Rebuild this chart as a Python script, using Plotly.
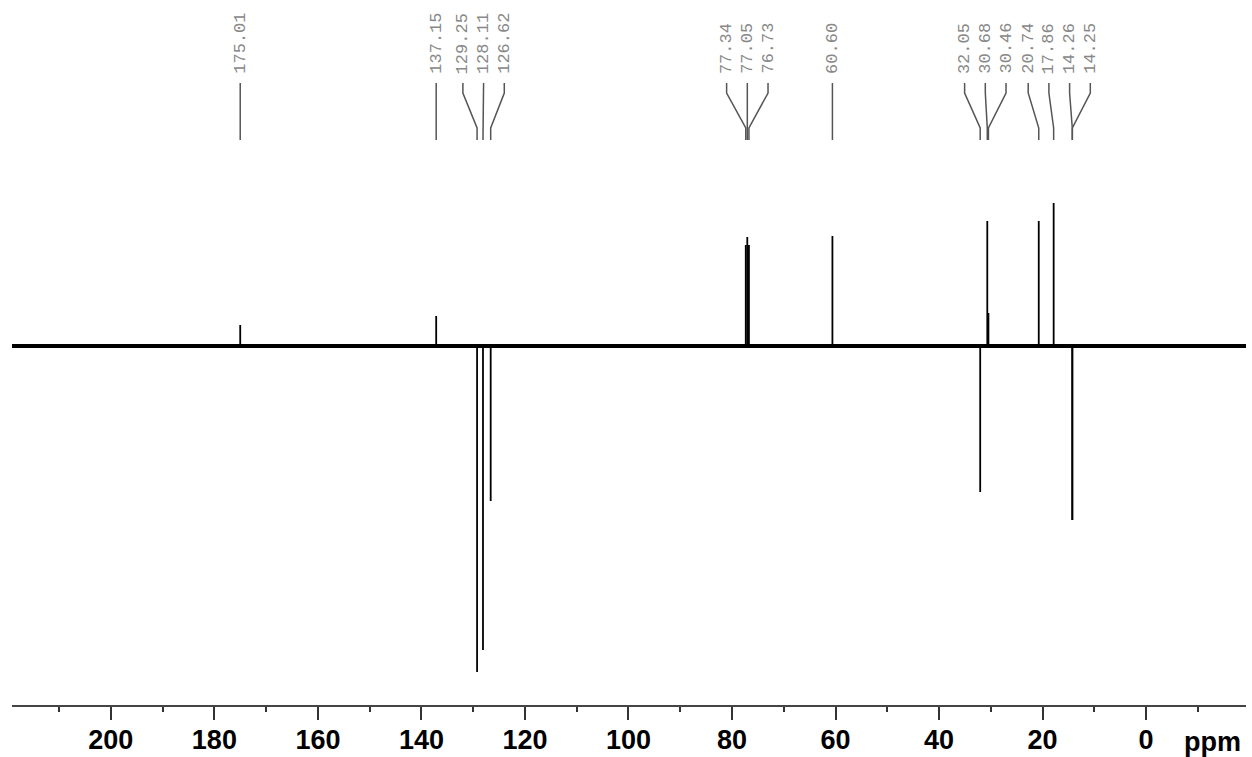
import plotly.graph_objects as go

# ---- data ----
peak_ppm = [175.01, 137.15, 129.25, 128.11, 126.62, 77.34, 77.05, 76.73,
            60.60, 32.05, 30.68, 30.46, 20.74, 17.86, 14.26, 14.25]
peak_int = [21, 30, -326, -304, -155, 101, 109, 101,
            110, -146, 125, 33, 125, 143, -174, -174]
x_range = [219.1, -19.3]
tick_vals = [200, 180, 160, 140, 120, 100, 80, 60, 40, 20, 0]
label_gap = 4.0  # ppm between neighbouring peak labels


def spread(peaks, gap):
    clusters = [[p] for p in sorted(peaks, reverse=True)]

    def pos(c):
        m = sum(c) / len(c)
        n = len(c)
        return [m + gap * ((n - 1) / 2 - i) for i in range(n)]

    merged = True
    while merged:
        merged = False
        for i in range(len(clusters) - 1):
            a, b = pos(clusters[i]), pos(clusters[i + 1])
            if a[-1] - b[0] < gap:
                clusters[i] = clusters[i] + clusters[i + 1]
                del clusters[i + 1]
                merged = True
                break
    out = []
    for c in clusters:
        out += pos(c)
    return out


label_pos = spread(peak_ppm, label_gap)

# spectrum sticks
sx, sy = [], []
for p, h in zip(peak_ppm, peak_int):
    sx += [p, p, None]
    sy += [0, h, None]

# connectors (in pixel-like units on y2)
cx, cy = [], []
for p, lp in zip(sorted(peak_ppm, reverse=True), label_pos):
    cx += [lp, lp, p, p, None]
    cy += [83, 93, 128, 140, None]

fig = go.Figure()
fig.add_trace(go.Scatter(x=x_range, y=[0, 0], mode="lines",
                         line=dict(color="black", width=4), hoverinfo="skip"))
fig.add_trace(go.Scatter(x=sx, y=sy, mode="lines",
                         line=dict(color="black", width=1.8), hoverinfo="skip"))
fig.add_trace(go.Scatter(x=cx, y=cy, mode="lines", yaxis="y2",
                         line=dict(color="#555555", width=1.5), hoverinfo="skip"))

annotations = []
for p, lp in zip(sorted(peak_ppm, reverse=True), label_pos):
    annotations.append(dict(
        x=lp, xref="x", y=76, yref="y2", text=f"{p:.2f}", textangle=-90,
        xanchor="center", yanchor="bottom", showarrow=False,
        font=dict(family="Liberation Mono", size=17, color="#888888")))
annotations.append(dict(
    x=-12.8, xref="x", y=0, yref="paper", yshift=-37, text="ppm",
    showarrow=False, xanchor="center", yanchor="middle",
    font=dict(family="Liberation Sans", size=27, color="black", weight="bold")))

fig.update_layout(
    width=1252, height=757,
    margin=dict(l=12, r=6, t=0, b=52),
    paper_bgcolor="white", plot_bgcolor="white",
    showlegend=False,
    annotations=annotations,
    xaxis=dict(range=x_range, showgrid=False, zeroline=False,
               showline=True, linecolor="#444444", linewidth=2,
               ticks="outside", ticklen=13, tickwidth=2, tickcolor="#333333",
               tickvals=tick_vals, ticktext=[str(v) for v in tick_vals],
               ticklabelstandoff=-3,
               minor=dict(dtick=10, tick0=0, ticks="outside", ticklen=5,
                          tickwidth=2, tickcolor="#333333"),
               tickfont=dict(family="Liberation Sans", size=27, color="black",
                             weight="bold")),
    yaxis=dict(range=[-359, 346], visible=False, fixedrange=True),
    yaxis2=dict(range=[705, 0], overlaying="y", visible=False, fixedrange=True),
)

fig.write_html("out.html")
